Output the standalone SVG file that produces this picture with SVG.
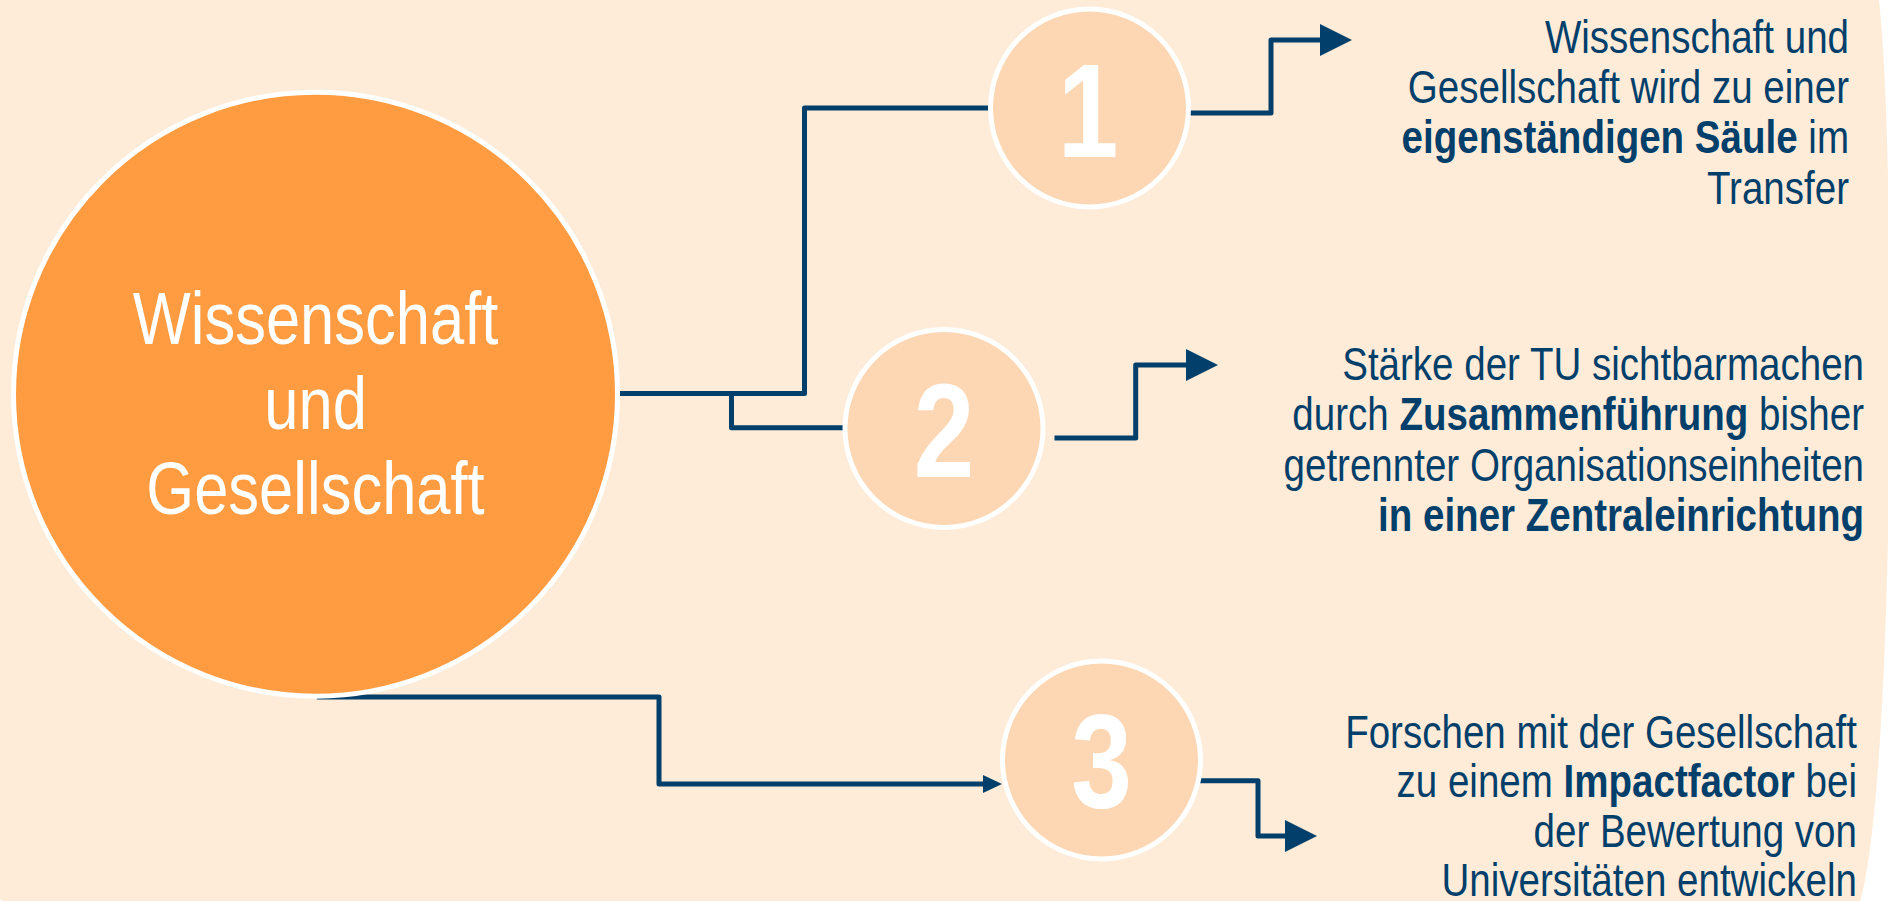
<svg xmlns="http://www.w3.org/2000/svg" width="1888" height="902" viewBox="0 0 1888 902">
<style>
.bg{fill:#FEECD9}
.main{fill:#FF9B40;stroke:#FFFFFF;stroke-width:5}
.num{fill:#FDD7B3;stroke:#FFFFFF;stroke-width:5}
.conn{fill:none;stroke:#023F6B;stroke-width:5;stroke-linejoin:round}
.t{font-family:"Liberation Sans",Arial,sans-serif}
.mainT{font-size:75px;fill:#FFFFFF;text-anchor:middle}
.digit{font-size:133px;font-weight:bold;fill:#FFFFFF;text-anchor:middle}
.desc{font-size:47px;fill:#023F6B;text-anchor:end}
.b{font-weight:bold}
</style>
<defs>
<marker id="arrowL" viewBox="0 0 32 32" markerWidth="32" markerHeight="32" refX="0" refY="16" markerUnits="userSpaceOnUse" orient="auto">
<path d="M0,0 L32,16 L0,32 Z" fill="#023F6B"/>
</marker>
<marker id="arrowS" viewBox="0 0 19 18" markerWidth="19" markerHeight="18" refX="0" refY="9" markerUnits="userSpaceOnUse" orient="auto">
<path d="M0,0 L19,9 L0,18 Z" fill="#023F6B"/>
</marker>
</defs>
<path class="bg" d="M0,0 H1879 C1896,150 1896,780 1860,901 H3 Q0,901 0,898 Z"/>
<g id="connectors">
<path class="conn" d="M620,393.5 H804.5 V108 H988"/>
<path class="conn" d="M731.5,393.5 V427.7 H843"/>
<path class="conn" d="M316.8,697 H659 V784 H983" marker-end="url(#arrowS)"/>
<path class="conn" d="M1189,113 H1271 V40 H1320" marker-end="url(#arrowL)"/>
<path class="conn" d="M1054.5,438 H1135.7 V365 H1186" marker-end="url(#arrowL)"/>
<path class="conn" d="M1196,780.7 H1258 V836 H1285" marker-end="url(#arrowL)"/>
</g>
<g id="node-main">
<circle class="main" cx="315.5" cy="394.2" r="302"/>
<text class="t mainT" transform="scale(0.82 1)"><tspan x="384.8" y="344">Wissenschaft</tspan><tspan x="384.8" y="429">und</tspan><tspan x="384.8" y="514">Gesellschaft</tspan></text>
</g>
<g id="node-1">
<circle class="num" cx="1089.5" cy="108" r="99"/>
<text class="t digit" transform="scale(0.82 1)" x="1326.8" y="157">1</text>
</g>
<g id="node-2">
<circle class="num" cx="944" cy="428.5" r="99"/>
<text class="t digit" transform="scale(0.82 1)" x="1151.2" y="477">2</text>
</g>
<g id="node-3">
<circle class="num" cx="1101.5" cy="760" r="99"/>
<text class="t digit" transform="scale(0.82 1)" x="1343.3" y="808">3</text>
</g>
<g id="text-1">
<text class="t desc" transform="scale(0.82 1)"><tspan x="2254.9" y="53">Wissenschaft und</tspan><tspan x="2254.9" y="103">Gesellschaft wird zu einer</tspan><tspan x="2254.9" y="153"><tspan class="b">eigenständigen Säule</tspan> im</tspan><tspan x="2254.9" y="204">Transfer</tspan></text>
</g>
<g id="text-2">
<text class="t desc" transform="scale(0.82 1)"><tspan x="2273.2" y="380">Stärke der TU sichtbarmachen</tspan><tspan x="2273.2" y="430">durch <tspan class="b">Zusammenführung</tspan> bisher</tspan><tspan x="2273.2" y="481">getrennter Organisationseinheiten</tspan><tspan x="2273.2" y="531" class="b">in einer Zentraleinrichtung</tspan></text>
</g>
<g id="text-3">
<text class="t desc" transform="scale(0.82 1)"><tspan x="2264.6" y="748">Forschen mit der Gesellschaft</tspan><tspan x="2264.6" y="797">zu einem <tspan class="b">Impactfactor</tspan> bei</tspan><tspan x="2264.6" y="847">der Bewertung von</tspan><tspan x="2264.6" y="896">Universitäten entwickeln</tspan></text>
</g>
</svg>
